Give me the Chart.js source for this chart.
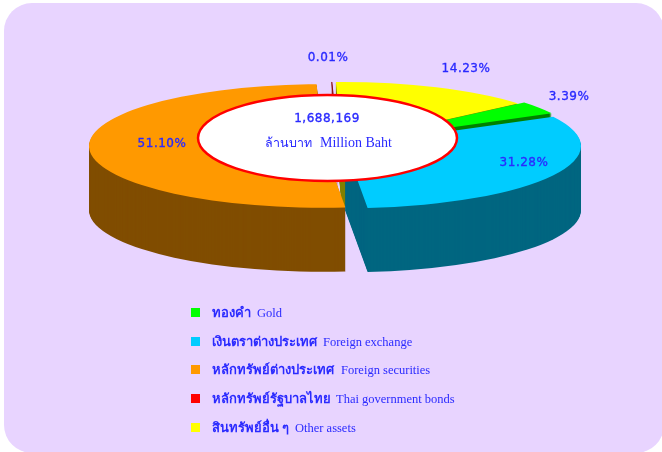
<!DOCTYPE html>
<html>
<head>
<meta charset="utf-8">
<style>
  html, body { margin: 0; padding: 0; background: #ffffff; }
  #panel { position: absolute; left: 4px; top: 3px; width: 660px; height: 450px; background: #e8d4ff; border-radius: 28px; }
  #wrap { position: absolute; left: 0; top: 0; width: 662px; height: 452px; overflow: hidden; }
  #chart { position: absolute; left: 0; top: 0; }
</style>
<script src="https://cdn.jsdelivr.net/npm/chart.js@4"></script>
</head>
<body>
<div id="wrap">
  <div id="panel"></div>
  <canvas id="chart" width="662" height="452"></canvas>
</div>
<script>
// Chart data
const thaiLabels = ["ทองคำ", "เงินตราต่างประเทศ", "หลักทรัพย์ต่างประเทศ", "หลักทรัพย์รัฐบาลไทย", "สินทรัพย์อื่น ๆ"];
const englishLabels = ["Gold", "Foreign exchange", "Foreign securities", "Thai government bonds", "Other assets"];
const shares = [3.39, 31.28, 51.10, 0.01, 14.23];
const shareLabels = ["3.39%", "31.28%", "51.10%", "0.01%", "14.23%"];
const totalLabel = "1,688,169";
const unitThai = "ล้านบาท";
const unitEnglish = "Million Baht";

// Colours
const topColors = ["#00ff00", "#00ccff", "#ff9900", "#ff0000", "#ffff00"];
const sideColors = ["#008000", "#006680", "#804d00", "#800000", "#808000"];
const textColor = "#2a2aff";

// Layout of the pulled apart 3D pie
const DEPTH = 64;
const FLATTEN = 0.264;
const sliceCenters = [[348, 142], [345, 146], [323, 146], [338, 143], [342, 143]];
const sliceRadii = [231, 236, 234, 231, 231];
const drawOrder = [3, 4, 0, 2, 1];
const labelSpots = [[569, 97], [524, 163], [162, 144], [328, 58], [466, 69]];
const legendRows = [313, 342, 370, 399, 428];
const legendEnglishX = [257, 323, 341, 336, 295];

function tracePie(ctx, arc) {
  ctx.beginPath();
  ctx.moveTo(0, 0);
  ctx.arc(0, 0, arc.outerRadius, arc.startAngle, arc.endAngle);
  ctx.closePath();
}

// Heavier text for the numbers
function boldText(ctx, text, x, y) {
  ctx.fillText(text, x, y);
  ctx.strokeText(text, x, y);
}

// Draws each slice with its side wall, back to front
const slice3d = {
  id: "slice3d",
  beforeDatasetDraw(chart) {
    const ctx = chart.ctx;
    const arcs = chart.getDatasetMeta(0).data;
    drawOrder.forEach((i) => {
      const arc = arcs[i];
      const [cx, cy] = sliceCenters[i];
      const sx = sliceRadii[i] / arc.outerRadius;
      // side wall, stacked downwards
      ctx.save();
      ctx.fillStyle = sideColors[i];
      for (let d = DEPTH; d > 0; d--) {
        ctx.save();
        ctx.translate(cx, cy + d);
        ctx.scale(sx, sx * FLATTEN);
        tracePie(ctx, arc);
        ctx.fill();
        ctx.restore();
      }
      ctx.restore();
      // top face, the library's own arc
      ctx.save();
      ctx.translate(cx, cy);
      ctx.scale(sx, sx * FLATTEN);
      ctx.translate(-arc.x, -arc.y);
      arc.draw(ctx);
      ctx.restore();
    });
    return false;
  },
  afterDraw(chart) {
    const ctx = chart.ctx;
    ctx.save();

    // centre ellipse
    ctx.beginPath();
    ctx.ellipse(327.5, 138, 129.5, 43, 0, 0, Math.PI * 2);
    ctx.fillStyle = "#ffffff";
    ctx.fill();
    ctx.lineWidth = 2.5;
    ctx.strokeStyle = "#ff0000";
    ctx.stroke();

    ctx.fillStyle = textColor;
    ctx.strokeStyle = textColor;
    ctx.lineWidth = 0.35;
    ctx.textBaseline = "middle";
    ctx.textAlign = "center";

    // total and unit
    ctx.font = '12px "DejaVu Sans"';
    ctx.letterSpacing = "0.5px";
    boldText(ctx, totalLabel, 327, 119);
    ctx.letterSpacing = "0px";
    ctx.textAlign = "left";
    ctx.font = '12.5px "Noto Sans", "Liberation Serif"';
    ctx.fillText(unitThai, 265, 143);
    ctx.font = '14px "Liberation Serif"';
    ctx.fillText(unitEnglish, 320, 143);

    // percentage labels
    ctx.textAlign = "center";
    ctx.font = '12px "DejaVu Sans"';
    ctx.letterSpacing = "0.5px";
    shareLabels.forEach((t, i) => {
      boldText(ctx, t, labelSpots[i][0], labelSpots[i][1]);
    });
    ctx.letterSpacing = "0px";

    // legend
    ctx.textAlign = "left";
    thaiLabels.forEach((t, i) => {
      ctx.fillStyle = topColors[i];
      ctx.fillRect(191, legendRows[i] - 5, 9, 9);
      ctx.fillStyle = textColor;
      ctx.font = 'bold 13px "Noto Sans", "Liberation Sans"';
      ctx.fillText(t, 212, legendRows[i]);
      ctx.font = '12.5px "Liberation Serif"';
      ctx.fillText(englishLabels[i], legendEnglishX[i], legendRows[i] + 1);
    });
    ctx.restore();
  },
};

// Chart Initialization
const pieChart = new Chart(document.getElementById("chart").getContext("2d"), {
  type: "pie",
  data: {
    labels: englishLabels,
    datasets: [
      {
        data: shares,
        backgroundColor: topColors,
        borderWidth: [0, 0, 0, 1, 0],
        borderColor: sideColors,
        radius: 231,
      },
    ],
  },
  options: {
    responsive: false,
    animation: false,
    rotation: 49.7,
    plugins: {
      legend: { display: false },
      tooltip: { enabled: false },
    },
  },
  plugins: [slice3d],
});
</script>
</body>
</html>
